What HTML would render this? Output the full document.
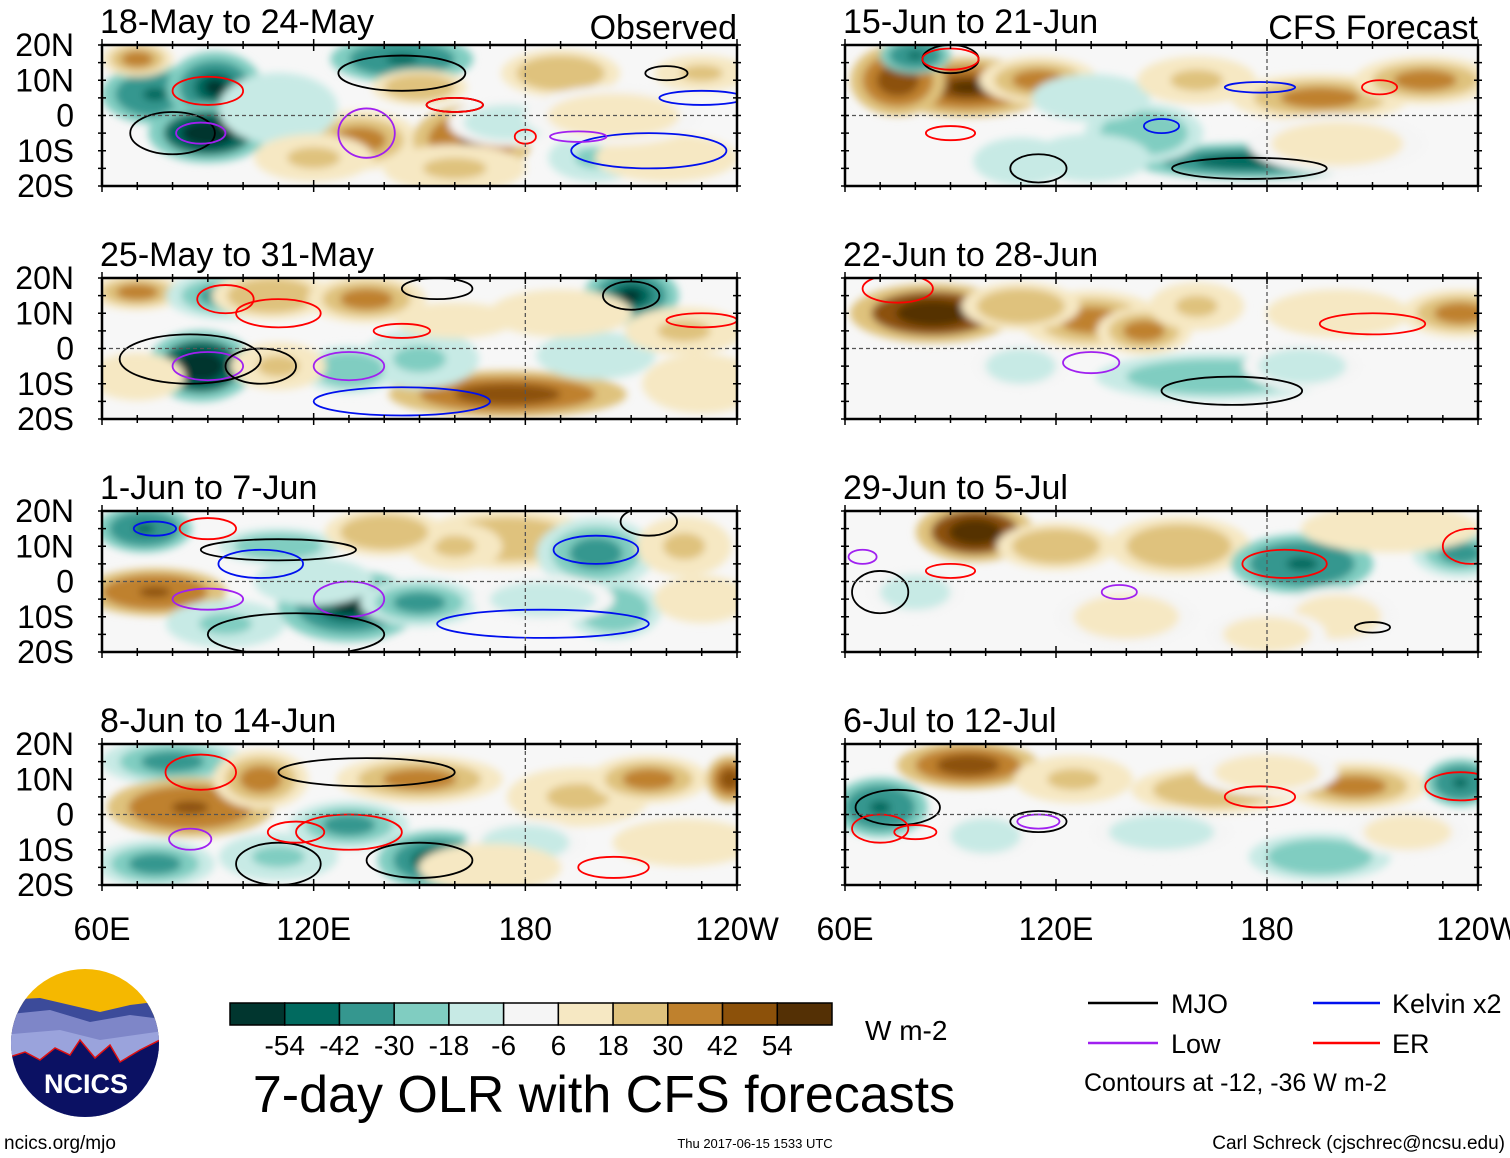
<!DOCTYPE html>
<html><head><meta charset="utf-8"><style>
body{margin:0;background:#fff;}
svg{display:block;font-family:"Liberation Sans",sans-serif;}
</style></head><body>
<svg id="fig" width="1510" height="1158" viewBox="0 0 1510 1158" xmlns="http://www.w3.org/2000/svg">
<defs>
<filter id="blur" x="-20%" y="-20%" width="140%" height="140%"><feGaussianBlur stdDeviation="4"/></filter>
</defs>
<g id="panels"></g>
<g id="cbar"></g>
<text x="865" y="1040" font-size="28">W m-2</text>
<text x="604" y="1112" font-size="52" text-anchor="middle">7-day OLR with CFS forecasts</text>
<g>
<clipPath id="lc"><circle cx="85" cy="1043" r="74"/></clipPath>
<g clip-path="url(#lc)">
<rect x="0" y="960" width="170" height="170" fill="#f5b800"/>
<path d="M0 1000 L40 998 L70 1005 L100 1012 L130 1005 L170 1000 L170 1130 L0 1130Z" fill="#3c4b9a"/>
<path d="M0 1015 L50 1010 L90 1022 L130 1015 L170 1020 L170 1130 L0 1130Z" fill="#7e86c8"/>
<path d="M0 1035 L60 1030 L100 1040 L170 1030 L170 1130 L0 1130Z" fill="#9aa3dc"/>
<path d="M0 1060 L25 1052 L40 1060 L55 1048 L70 1055 L80 1040 L95 1058 L110 1045 L120 1062 L140 1050 L170 1035 L170 1130 L0 1130Z" fill="#0b1163" stroke="#e01010" stroke-width="1.5"/>
</g>
<text x="86" y="1093" font-size="27" font-weight="bold" fill="#fff" text-anchor="middle">NCICS</text>
</g>
<text x="4" y="1149" font-size="19">ncics.org/mjo</text>
<text x="755" y="1148" font-size="13" text-anchor="middle">Thu 2017-06-15 1533 UTC</text>
<text x="1505" y="1149" font-size="19" text-anchor="end">Carl Schreck (cjschrec@ncsu.edu)</text>
<g>
<line x1="1088" y1="1003" x2="1158" y2="1003" stroke="#000" stroke-width="2.5"/>
<text x="1171" y="1013" font-size="27">MJO</text>
<line x1="1313" y1="1003" x2="1380" y2="1003" stroke="#0010ee" stroke-width="2.5"/>
<text x="1392" y="1013" font-size="27">Kelvin x2</text>
<line x1="1088" y1="1043" x2="1158" y2="1043" stroke="#a020f0" stroke-width="2.5"/>
<text x="1171" y="1053" font-size="27">Low</text>
<line x1="1313" y1="1043" x2="1380" y2="1043" stroke="#f00" stroke-width="2.5"/>
<text x="1392" y="1053" font-size="27">ER</text>
<text x="1084" y="1091" font-size="25">Contours at -12, -36 W m-2</text>
</g>
</svg>
<script>
const cbLevels = [-54,-42,-30,-18,-6,6,18,30,42,54];
const cbColors = ["#01362f","#016a5f","#35978f","#80cdc1","#c7eae5","#f5f5f5","#f6e8c3","#dfc27d","#bf812d","#8c510a","#543005"];
const panelTitles = ["18-May to 24-May","25-May to 31-May","1-Jun to 7-Jun","8-Jun to 14-Jun","15-Jun to 21-Jun","22-Jun to 28-Jun","29-Jun to 5-Jul","6-Jul to 12-Jul"];
const latTicks = [20,10,0,-10,-20];
const latLabels = ["20N","10N","0","10S","20S"];
const lonTicks = [60,120,180,240];
const lonLabels = ["60E","120E","180","120W"];
// blobs: [lon, lat, rxDeg, ryDeg, value]
const blobs0 = [[75,6,9,5,-40],[92,8,8,6,-50],[90,-5,10,5,-54],[145,16,12,4,-40],[70,16,6,3,30],[133,-7,10,5,30],[165,-7,10,6,40],[190,12,10,4,25],[150,8,8,3,25],[200,-12,8,4,-20],[220,-12,12,4,15],[110,2,10,6,-15],[175,-2,10,4,-10],[230,12,8,3,20],[120,-12,10,4,20],[205,0,15,5,10],[160,-15,12,4,20]];
const blobs1 = [[70,16,8,3,30],[95,15,10,4,-30],[88,-5,9,6,-54],[108,15,10,4,25],[135,14,10,4,30],[210,15,8,5,-50],[175,-13,20,4,45],[150,-3,10,5,-20],[130,-6,8,4,-25],[160,8,10,3,15],[200,-2,10,4,-15],[225,5,10,4,20],[110,-5,8,4,20],[190,10,12,4,15],[230,-10,10,5,15],[70,-8,8,4,15]];
const blobs2 = [[72,15,8,4,-40],[75,-3,12,4,40],[130,-7,12,6,-50],[110,10,10,3,-25],[150,-6,10,4,-30],[175,12,15,5,25],[200,8,10,6,-30],[205,-8,8,5,-25],[95,-12,10,4,-20],[160,10,8,4,20],[225,10,8,5,20],[140,14,10,4,25],[120,0,10,4,-15],[185,-5,12,4,-12],[230,-5,8,4,15]];
const blobs3 = [[80,15,12,4,-35],[85,2,14,5,40],[75,-14,10,4,-30],[105,10,8,5,30],[155,-13,10,5,-45],[130,-3,10,4,-30],[150,10,14,4,30],[195,5,12,5,20],[215,10,10,4,30],[238,10,4,4,45],[110,-12,10,4,-20],[180,-8,10,4,-10],[170,-15,12,4,15],[225,-8,12,4,15]];
const blobs4 = [[95,8,14,5,50],[75,10,8,6,45],[115,10,10,4,35],[80,17,6,3,-40],[175,-13,20,3,-45],[145,-5,10,5,-25],[130,5,10,4,-15],[195,5,15,4,30],[225,10,12,4,30],[160,10,10,4,20],[110,-13,8,4,-15],[130,-12,10,4,-15],[200,-8,15,5,8]];
const blobs5 = [[85,10,14,5,55],[130,8,12,5,30],[145,5,8,4,35],[165,-8,20,4,-25],[235,10,10,4,35],[190,-5,10,4,-12],[110,-5,8,4,-12],[160,12,8,4,20],[200,10,12,4,15],[110,12,10,4,25]];
const blobs6 = [[97,14,10,5,55],[120,10,10,4,25],[155,10,12,5,25],[190,5,12,5,-40],[235,8,8,4,-30],[80,-3,8,4,-10],[200,-10,10,5,10],[180,-15,10,4,10],[215,15,15,4,15],[140,-10,12,5,8]];
const blobs7 = [[95,14,12,4,45],[70,2,8,5,-40],[125,10,10,4,20],[165,7,14,4,25],[205,8,12,4,30],[235,9,6,4,-40],[195,-12,12,4,-25],[150,-5,12,4,-10],[100,-6,8,4,-10],[180,12,12,4,12],[220,-5,10,4,8]];
const allBlobs = [blobs0,blobs1,blobs2,blobs3,blobs4,blobs5,blobs6,blobs7];
// contours: [lon, lat, rxDeg, ryDeg, type]
const cont0 = [[80,-5,12,6,"mjo"],[88,-5,7,3,"low"],[90,7,10,4,"er"],[145,12,18,5,"mjo"],[160,3,8,2,"mjo"],[160,3,8,2,"er"],[135,-5,8,7,"low"],[215,-10,22,5,"kelvin"],[180,-6,3,2,"er"],[195,-6,8,1.5,"low"],[220,12,6,2,"mjo"],[230,5,12,2,"kelvin"]];
const cont1 = [[90,-5,10,4,"low"],[85,-3,20,7,"mjo"],[110,10,12,4,"er"],[95,14,8,4,"er"],[210,15,8,4,"mjo"],[155,17,10,3,"mjo"],[145,5,8,2,"er"],[230,8,10,2,"er"],[145,-15,25,4,"kelvin"],[130,-5,10,4,"low"],[105,-5,10,5,"mjo"]];
const cont2 = [[110,9,22,3,"mjo"],[130,-5,10,5,"low"],[90,-5,10,3,"low"],[115,-15,25,6,"mjo"],[185,-12,30,4,"kelvin"],[200,9,12,4,"kelvin"],[105,5,12,4,"kelvin"],[75,15,6,2,"kelvin"],[215,17,8,4,"mjo"],[90,15,8,3,"er"]];
const cont3 = [[85,-7,6,3,"low"],[110,-14,12,6,"mjo"],[150,-13,15,5,"mjo"],[130,-5,15,5,"er"],[135,12,25,4,"mjo"],[88,12,10,5,"er"],[205,-15,10,3,"er"],[115,-5,8,3,"er"]];
const cont4 = [[90,16,8,4,"mjo"],[90,16,8,3,"er"],[175,-15,22,3,"mjo"],[90,-5,7,2,"er"],[115,-15,8,4,"mjo"],[178,8,10,1.5,"kelvin"],[212,8,5,2,"er"],[150,-3,5,2,"kelvin"]];
const cont5 = [[75,17,10,4,"er"],[210,7,15,3,"er"],[170,-12,20,4,"mjo"],[130,-4,8,3,"low"]];
const cont6 = [[70,-3,8,6,"mjo"],[90,3,7,2,"er"],[185,5,12,4,"er"],[238,10,8,5,"er"],[210,-13,5,1.5,"mjo"],[138,-3,5,2,"low"],[65,7,4,2,"low"]];
const cont7 = [[75,2,12,5,"mjo"],[115,-2,8,3,"mjo"],[115,-2,6,2,"low"],[178,5,10,3,"er"],[235,8,10,4,"er"],[80,-5,6,2,"er"],[70,-4,8,4,"er"]];
const allCont = [cont0,cont1,cont2,cont3,cont4,cont5,cont6,cont7];
const contColors = {mjo:"#000",low:"#a020f0",kelvin:"#0010ee",er:"#f00"};

const NS="http://www.w3.org/2000/svg";
function mk(tag, attrs, parent){const e=document.createElementNS(NS,tag);for(const k in attrs)e.setAttribute(k,attrs[k]);parent.appendChild(e);return e;}
function colorFor(v){let i=0;while(i<cbLevels.length&&v>cbLevels[i])i++;return cbColors[i];}
const colX=[102,845], colW=[635,633], rowY=[45,278,511,744], PH=141;
const root=document.getElementById('panels');
for(let p=0;p<8;p++){
  const c=p<4?0:1, r=p%4;
  const x0=colX[c], w=colW[c], y0=rowY[r];
  const X=lon=>x0+(lon-60)/180*w;
  const Y=lat=>y0+(20-lat)/40*PH;
  const g=mk('g',{},root);
  
  
  const cp=mk('clipPath',{id:'cp'+p},g);
  mk('rect',{x:x0,y:y0,width:w,height:PH},cp);
  const inner=mk('g',{'clip-path':'url(#cp'+p+')'},g);
  mk('rect',{x:x0,y:y0,width:w,height:PH,fill:'#f7f7f7'},inner);
  const bl=mk('g',{filter:'url(#blur)'},inner);
  allBlobs[p].forEach(b=>{
    const cx=X(b[0]),cy=Y(b[1]),rx=b[2]/180*w*1.25,ry=b[3]/40*PH*1.25;
    const v=b[4]*1.15;
    const e1=mk('ellipse',{cx:cx,cy:cy,rx:rx*1.35,ry:ry*1.35,fill:colorFor(v*0.4)},bl);
    
    
    mk('ellipse',{cx:cx,cy:cy,rx:rx,ry:ry,fill:colorFor(v*0.7)},bl);
    mk('ellipse',{cx:cx,cy:cy,rx:rx*0.6,ry:ry*0.6,fill:colorFor(v*0.9)},bl);
    mk('ellipse',{cx:cx,cy:cy,rx:rx*0.3,ry:ry*0.3,fill:colorFor(v)},bl);
  });
  allCont[p].forEach(k=>{
    const e=mk('ellipse',{cx:X(k[0]),cy:Y(k[1]),rx:k[2]/180*w,ry:k[3]/40*PH,fill:'none',stroke:contColors[k[4]],'stroke-width':1.8},inner);
    
    
  });
  mk('line',{x1:x0,x2:x0+w,y1:Y(0),y2:Y(0),stroke:'#555','stroke-dasharray':'4,3','stroke-width':1.3},g);
  mk('line',{x1:X(180),x2:X(180),y1:y0,y2:y0+PH,stroke:'#555','stroke-dasharray':'4,3','stroke-width':1.3},g);
  mk('rect',{x:x0,y:y0,width:w,height:PH,fill:'none',stroke:'#000','stroke-width':2.5},g);
  for(let lon=60;lon<=240;lon+=10){
    const len=(lon%60===0)?6:4;
    mk('line',{x1:X(lon),x2:X(lon),y1:y0-len,y2:y0+len,stroke:'#000','stroke-width':1.5},g);
    mk('line',{x1:X(lon),x2:X(lon),y1:y0+PH-len,y2:y0+PH+len,stroke:'#000','stroke-width':1.5},g);
  }
  for(let lat=-20;lat<=20;lat+=5){
    mk('line',{x1:x0-4,x2:x0+4,y1:Y(lat),y2:Y(lat),stroke:'#000','stroke-width':1.5},g);
    mk('line',{x1:x0+w-4,x2:x0+w+4,y1:Y(lat),y2:Y(lat),stroke:'#000','stroke-width':1.5},g);
  }
  const t=mk('text',{x:x0-2,y:y0-12,'font-size':34},g);t.textContent=panelTitles[p];
  
  
  if(r===0){
    const s=mk('text',{x:x0+w,y:y0-6,'font-size':34,'text-anchor':'end'},g);
    s.textContent=c===0?'Observed':'CFS Forecast';
    
    
  }
  if(c===0){
    latTicks.forEach((lt,i)=>{
      const l=mk('text',{x:74,y:Y(lt)+11,'font-size':32,'text-anchor':'end'},g);
      l.textContent=latLabels[i];
      
      
    });
  }
  if(r===3){
    lonTicks.forEach((ln,i)=>{
      const l=mk('text',{x:X(ln),y:940,'font-size':32,'text-anchor':'middle'},g);
      l.textContent=lonLabels[i];
      
      
    });
  }
}
const cb=document.getElementById('cbar');
const cbx0=230, cbw=602/cbColors.length;
cbColors.forEach((col,i)=>{
  const r=mk('rect',{x:cbx0+i*cbw,y:1003,width:cbw,height:22,fill:col,stroke:'#000','stroke-width':1.5},cb);
  
  
});
cbLevels.forEach((v,i)=>{
  const t=mk('text',{x:cbx0+(i+1)*cbw,y:1055,'font-size':28,'text-anchor':'middle'},cb);
  t.textContent=v;
  
  
});
</script>
</body></html>
